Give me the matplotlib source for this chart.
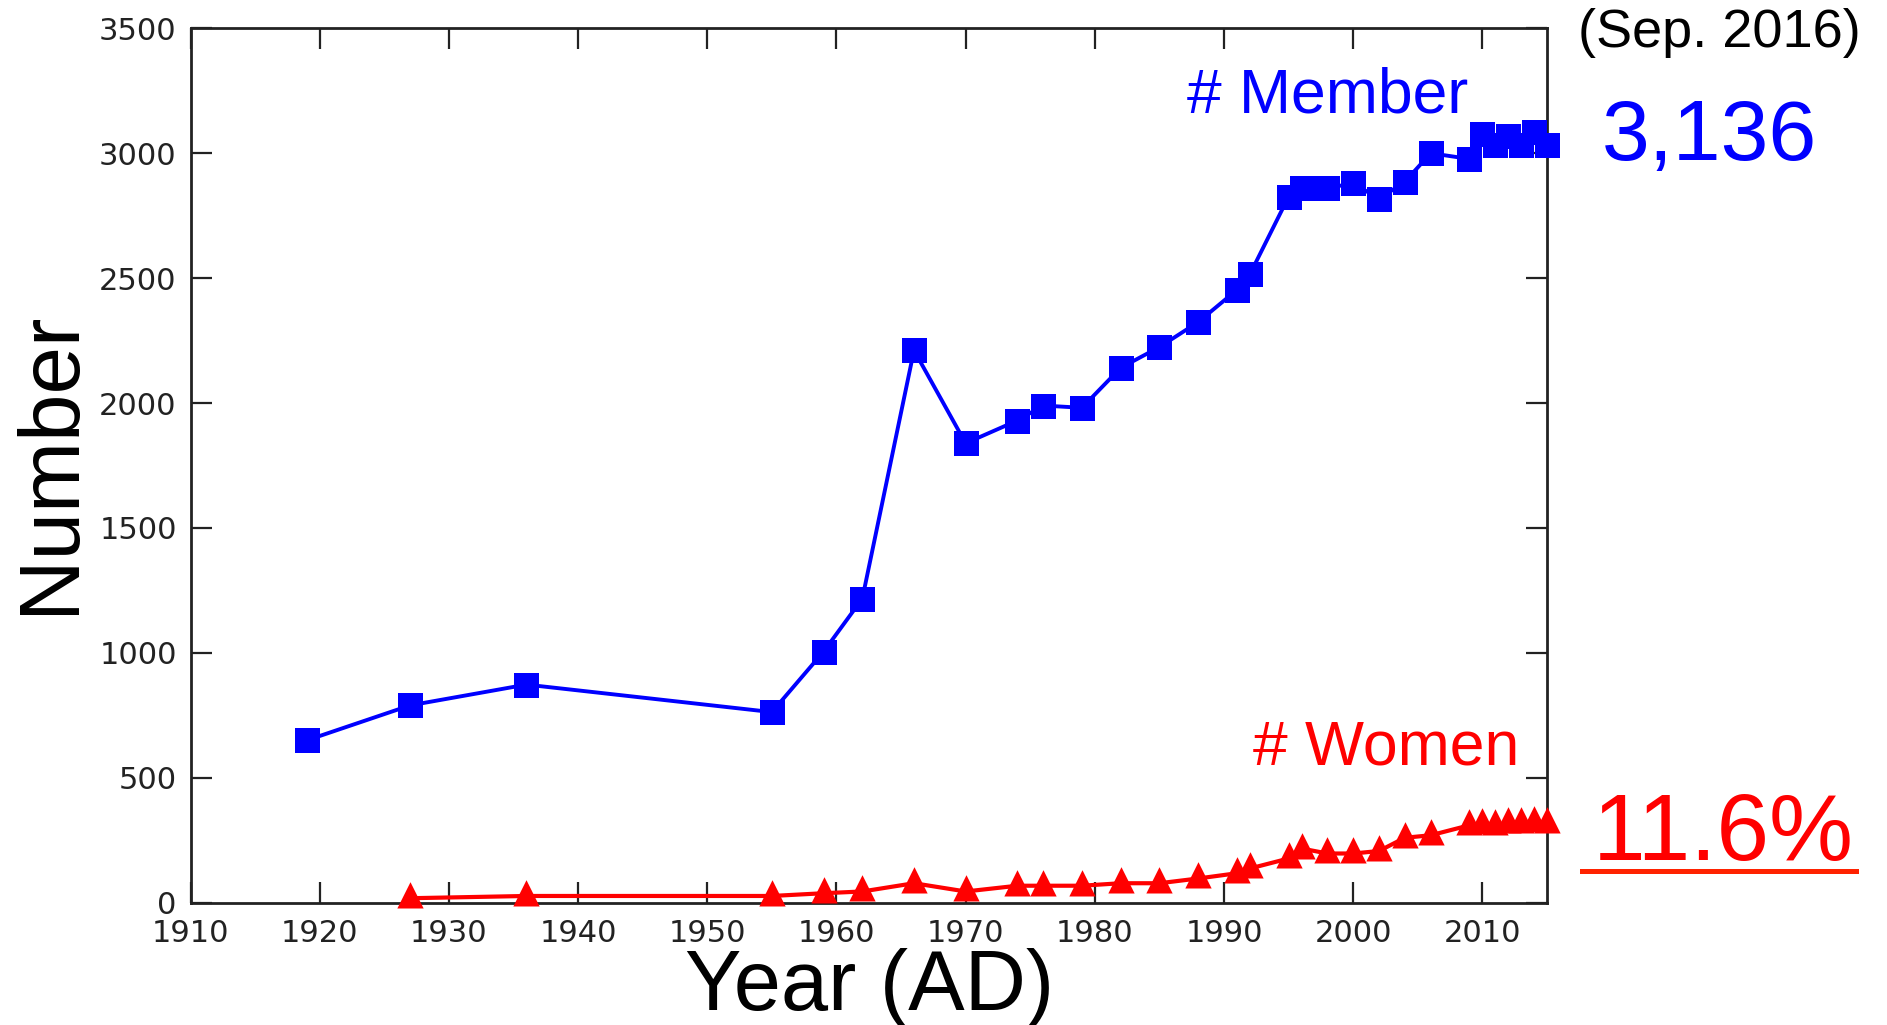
import matplotlib
matplotlib.use("Agg")
import matplotlib.pyplot as plt
from matplotlib.lines import Line2D

# Society membership (Sep. 2016)
member_years = [1919, 1927, 1936, 1955, 1959, 1962, 1966, 1970, 1974, 1976,
                1979, 1982, 1985, 1988, 1991, 1992, 1995, 1996, 1998, 2000,
                2002, 2004, 2006, 2009, 2010, 2011, 2012, 2013, 2014, 2015]
members = [650, 790, 873, 763, 1005, 1217, 2211, 1839, 1930, 1990,
           1981, 2141, 2224, 2324, 2453, 2515, 2826, 2860, 2860, 2880,
           2817, 2886, 3000, 2977, 3076, 3033, 3069, 3033, 3083, 3031]

women_years = [1927, 1936, 1955, 1959, 1962, 1966, 1970, 1974, 1976, 1979,
               1982, 1985, 1988, 1991, 1992, 1995, 1996, 1998, 2000, 2002,
               2004, 2006, 2009, 2010, 2011, 2012, 2013, 2014, 2015]
women = [18, 27, 27, 38, 45, 78, 45, 68, 68, 68,
         78, 78, 97, 118, 137, 177, 217, 197, 197, 207,
         260, 270, 310, 315, 310, 319, 319, 323, 318]

x_ticks = list(range(1910, 2011, 10))
y_ticks = list(range(0, 3501, 500))

SANS = ["Liberation Sans", "DejaVu Sans"]

fig = plt.figure(figsize=(18.87, 10.25), dpi=100)
ax = fig.add_axes([0.101, 0.1193, 0.7188, 0.8531])

# triangle whose anchor sits below its middle, like the original plot
tri = [(0, 0.62), (-0.5, -0.38), (0.5, -0.38)]

ax.plot(member_years, members, color="#0000ff", lw=2.8, marker="s",
        ms=18, mew=0, clip_on=False, zorder=3)
ax.plot(women_years, women, color="#ff0000", lw=3.0, marker=tri,
        ms=23.5, mew=0, clip_on=False, zorder=3)

ax.set_xlim(1910, 2015)
ax.set_ylim(0, 3500)
ax.set_xticks(x_ticks)
ax.set_yticks(y_ticks)
ax.tick_params(direction="in", top=True, right=True, length=15, width=1.6,
               color="#222222", labelsize=22, labelcolor="#222222")
ax.tick_params(axis="y", pad=10)
ax.tick_params(axis="x", pad=12)
for sp in ax.spines.values():
    sp.set_linewidth(2)
    sp.set_color("#222222")

fig.text(0.461, 0.0146, "Year (AD)", fontsize=61, family=SANS,
         ha="center", va="baseline")
fig.text(0.027, 0.549, "Number", fontsize=61.5, family=SANS,
         rotation=90, ha="center", va="center")

fig.text(0.778, 0.8898, "# Member", fontsize=45, family=SANS,
         color="#0000ff", ha="right", va="baseline")
fig.text(0.805, 0.2537, "# Women", fontsize=45, family=SANS,
         color="#ff0000", ha="right", va="baseline")

fig.text(0.9114, 0.9544, "(Sep. 2016)", fontsize=39, family=SANS,
         ha="center", va="baseline")
fig.text(0.906, 0.8439, "3,136", fontsize=62, family=SANS,
         color="#0000ff", ha="center", va="baseline")
fig.text(0.9133, 0.161, "11.6%", fontsize=68, family=SANS,
         color="#ff0000", ha="center", va="baseline")
fig.add_artist(Line2D([0.8384, 0.9836], [0.1498, 0.1498], color="#ff2200",
                      lw=3.6, transform=fig.transFigure))

fig.savefig("out.png", dpi=100)
